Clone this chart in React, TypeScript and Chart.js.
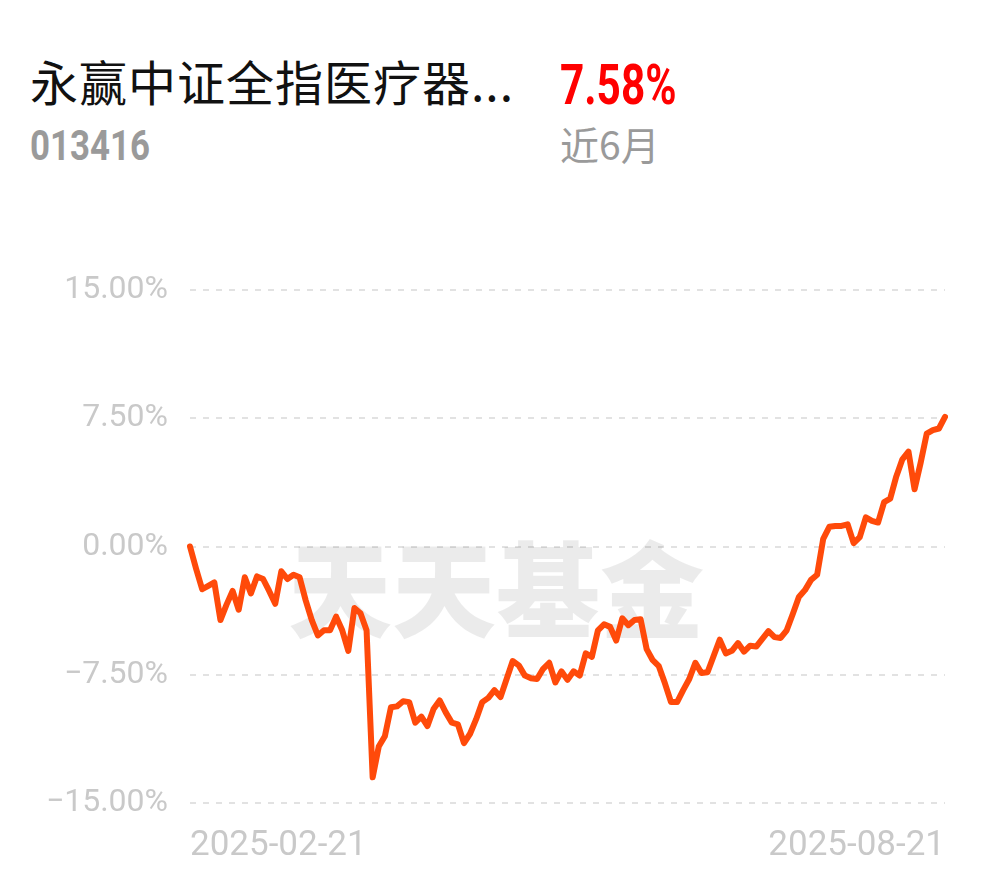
import React, { useEffect, useRef } from "react";
import { Chart, registerables } from "chart.js";

Chart.register(...registerables);

// ---- data ----
const fundName = "永赢中证全指医疗器...";
const fundCode = "013416";
const periodReturn = "7.58%";
const periodLabel = "近6月";
const xTickLabels = ["2025-02-21", "2025-08-21"];
const yTicks = [-15, -7.5, 0, 7.5, 15];

// cumulative return (%) per trading day
const returns = [
  0, -1.3, -2.5, -2.3, -2.1, -4.3, -3.4, -2.6, -3.7, -1.8,
  -2.75, -1.75, -1.9, -2.6, -3.35, -1.45, -1.9, -1.65, -1.8, -3.15,
  -4.3, -5.2, -4.9, -4.9, -4.1, -4.9, -6.1, -3.6, -3.9, -4.9,
  -13.5, -11.7, -11.1, -9.4, -9.35, -9.05, -9.1, -10.3, -9.95, -10.5,
  -9.5, -9.0, -9.7, -10.3, -10.4, -11.5, -10.95, -10.1, -9.1, -8.85,
  -8.4, -8.8, -7.75, -6.7, -6.95, -7.55, -7.7, -7.75, -7.15, -6.8,
  -7.95, -7.3, -7.8, -7.3, -7.55, -6.25, -6.45, -4.9, -4.55, -4.7,
  -5.5, -4.2, -4.6, -4.3, -4.25, -6.0, -6.65, -7.0, -8.0, -9.1,
  -9.1, -8.4, -7.75, -6.8, -7.4, -7.35, -6.4, -5.45, -6.25, -6.1,
  -5.65, -6.15, -5.8, -5.85, -5.4, -4.95, -5.3, -5.35, -4.9, -3.95,
  -2.95, -2.55, -1.95, -1.65, 0.45, 1.15, 1.2, 1.2, 1.3, 0.2,
  0.55, 1.7, 1.5, 1.4, 2.6, 2.8, 4.1, 5.1, 5.55, 3.35,
  4.9, 6.6, 6.8, 6.9, 7.58,
];
const dayIndex = returns.map((_, i) => String(i));

const LINE_COLOR = "#ff4a0a";
const TICK_COLOR = "#c9c9c9";
const GRID_COLOR = "#e2e2e2";

const formatPct = (v: number) => {
  const s = Math.abs(v).toFixed(2) + "%";
  return v < 0 ? "\u2212" + s : s;
};

const watermark = {
  id: "watermark",
  beforeDatasetsDraw(chart: any) {
    const { ctx, chartArea } = chart;
    ctx.save();
    ctx.font = '900 104px "Noto Sans CJK SC"';
    ctx.fillStyle = "rgba(0,0,0,0.08)";
    ctx.textAlign = "center";
    ctx.textBaseline = "middle";
    ctx.fillText("天天基金", chartArea.left + 306, 590);
    ctx.restore();
  },
};

export default function App() {
  const canvasRef = useRef<HTMLCanvasElement | null>(null);

  useEffect(() => {
    const canvas = canvasRef.current;
    if (!canvas) return;
    const last = returns.length - 1;
    const chart = new Chart(canvas, {
      type: "line",
      data: {
        labels: dayIndex,
        datasets: [
          {
            data: returns,
            borderColor: LINE_COLOR,
            borderWidth: 6,
            pointRadius: 0,
            tension: 0,
            fill: false,
            borderJoinStyle: "round",
            borderCapStyle: "round",
          },
        ],
      },
      options: {
        responsive: false,
        animation: false,
        layout: { padding: { top: 290, right: 45, left: 0, bottom: 0 } },
        plugins: { legend: { display: false }, tooltip: { enabled: false } },
        scales: {
          x: {
            type: "category",
            grid: { display: false },
            border: { display: false },
            ticks: {
              autoSkip: false,
              maxRotation: 0,
              minRotation: 0,
              align: "inner",
              padding: 14,
              color: TICK_COLOR,
              font: { family: "Roboto", size: 35 },
              callback: (_v: any, i: number) =>
                i === 0 ? xTickLabels[0] : i === last ? xTickLabels[1] : null,
            },
            afterFit: (s: any) => {
              s.height = 75;
            },
          },
          y: {
            min: yTicks[0],
            max: yTicks[yTicks.length - 1],
            afterBuildTicks: (s: any) => {
              s.ticks = yTicks.map((v) => ({ value: v }));
            },
            ticks: {
              padding: 22,
              color: TICK_COLOR,
              font: { family: "Roboto", size: 32 },
              callback: (v: any) => formatPct(Number(v)),
            },
            grid: { color: GRID_COLOR, lineWidth: 2, drawTicks: false },
            border: { display: false, dash: [6, 7] },
            afterFit: (s: any) => {
              s.width = 190;
            },
          },
        },
      },
      plugins: [watermark],
    } as any);
    return () => chart.destroy();
  }, []);

  return (
    <div
      style={{
        position: "absolute",
        left: 0,
        top: 0,
        width: 990,
        height: 878,
        background: "#fff",
        overflow: "hidden",
      }}
    >
      <div
        style={{
          position: "absolute",
          left: 30,
          top: 56,
          fontFamily: '"Noto Sans CJK SC", sans-serif',
          fontSize: 48,
          letterSpacing: 1,
          lineHeight: 1,
          color: "#111",
          whiteSpace: "nowrap",
        }}
      >
        {fundName}
      </div>
      <div
        style={{
          position: "absolute",
          left: 560,
          top: 58,
          fontFamily: "Roboto, sans-serif",
          fontWeight: 700,
          fontSize: 55,
          lineHeight: 1,
          color: "#ff0000",
          whiteSpace: "nowrap",
          transform: "scaleX(0.77)",
          transformOrigin: "left top",
        }}
      >
        {periodReturn}
      </div>
      <div
        style={{
          position: "absolute",
          left: 30,
          top: 125,
          fontFamily: "Roboto, sans-serif",
          fontWeight: 700,
          fontSize: 42,
          lineHeight: 1,
          color: "#9a9a9a",
          whiteSpace: "nowrap",
          transform: "scaleX(0.83)",
          transformOrigin: "left top",
        }}
      >
        {fundCode}
      </div>
      <div
        style={{
          position: "absolute",
          left: 560,
          top: 124,
          fontFamily: '"Noto Sans CJK SC", sans-serif',
          fontSize: 39,
          lineHeight: 1,
          color: "#9a9a9a",
          whiteSpace: "nowrap",
        }}
      >
        {periodLabel}
      </div>
      <canvas
        ref={canvasRef}
        width={990}
        height={878}
        style={{ position: "absolute", left: 0, top: 0, width: 990, height: 878 }}
      />
    </div>
  );
}
